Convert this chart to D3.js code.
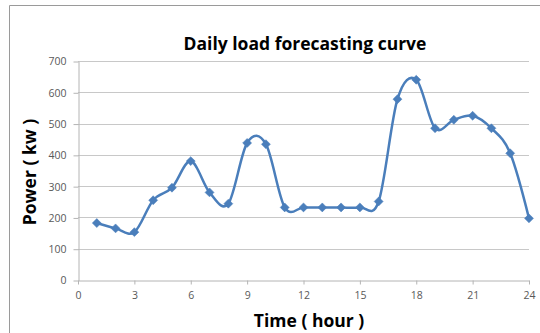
<!DOCTYPE html>
<html>
<head>
<meta charset="utf-8">
<script src="https://cdn.jsdelivr.net/npm/d3@7"></script>
<style>
  html, body { margin: 0; padding: 0; background: #fff; }
  svg { display: block; }
</style>
</head>
<body>
<div id="chart"></div>
<script>
// hours and forecast load
var hours = [1, 2, 3, 4, 5, 6, 7, 8, 9, 10, 11, 12, 13, 14, 15, 16, 17, 18, 19, 20, 21, 22, 23, 24];
var power = [182, 165, 153, 255, 295, 380, 280, 244, 438, 434, 232, 232, 232, 232, 232, 251, 578, 640, 485, 512, 525, 485, 405, 197];
var xTicks = [0, 3, 6, 9, 12, 15, 18, 21, 24];
var yTicks = [0, 100, 200, 300, 400, 500, 600, 700];

var data = hours.map(function(h, i) { return [h, power[i]]; });

var svg = d3.select("#chart").append("svg")
    .attr("width", 540)
    .attr("height", 333);

// outer chart border
svg.append("path")
    .attr("d", "M9.5,340 V5.5 H545")
    .attr("fill", "none")
    .attr("stroke", "#9a9a9a")
    .attr("stroke-width", 1);

var plotLeft = 78, plotRight = 529, plotTop = 61, plotBottom = 280;

var xScale = d3.scaleLinear().domain([0, 24]).range([plotLeft, plotRight]);
var yScale = d3.scaleLinear().domain([0, 700]).range([plotBottom, plotTop]);

// grid lines
svg.append("g")
    .selectAll("line")
    .data(yTicks.slice(1))
    .enter()
    .append("line")
    .attr("x1", plotLeft)
    .attr("x2", plotRight)
    .attr("y1", function(d) { return Math.round(yScale(d)) + 0.5; })
    .attr("y2", function(d) { return Math.round(yScale(d)) + 0.5; })
    .attr("stroke", "#c8c8c8")
    .attr("stroke-width", 1);

var yAxis = svg.append("g")
    .attr("transform", "translate(" + (plotLeft + 0.5) + ",0.5)")
    .call(d3.axisLeft(yScale).tickValues(yTicks).tickSize(5).tickPadding(7).tickSizeOuter(0));

var xAxis = svg.append("g")
    .attr("transform", "translate(0," + (plotBottom + 0.5) + ")")
    .call(d3.axisBottom(xScale).tickValues(xTicks).tickSize(4).tickPadding(7).tickSizeOuter(0));

[yAxis, xAxis].forEach(function(ax) {
  ax.select(".domain").attr("stroke", "#b4b4b4");
  ax.selectAll(".tick line").attr("stroke", "#b4b4b4");
  ax.selectAll(".tick text")
    .attr("fill", "#595959")
    .style("font-family", "'Open Sans', sans-serif")
    .style("font-size", "10.5px");
});

var line = d3.line()
    .x(function(d) { return xScale(d[0]); })
    .y(function(d) { return yScale(d[1]); })
    .curve(d3.curveCardinal.tension(0));

svg.append("path")
    .datum(data)
    .attr("d", line)
    .attr("fill", "none")
    .attr("stroke", "#4a7ebb")
    .attr("stroke-width", 2.5);

// square markers turned 45 degrees, like the spreadsheet diamonds
svg.append("g")
    .selectAll("path")
    .data(data)
    .enter()
    .append("path")
    .attr("d", d3.symbol().type(d3.symbolSquare).size(40))
    .attr("transform", function(d) { return "translate(" + xScale(d[0]) + "," + yScale(d[1]) + ") rotate(45)"; })
    .attr("fill", "#4a7ebb")
    .attr("stroke", "#4a7ebb")
    .attr("stroke-width", 0.5);

svg.append("text")
    .attr("x", 305)
    .attr("y", 50)
    .attr("text-anchor", "middle")
    .style("font-family", "'Open Sans', sans-serif")
    .style("font-weight", "bold")
    .style("font-size", "17.5px")
    .text("Daily load forecasting curve");

svg.append("text")
    .attr("x", 309)
    .attr("y", 327)
    .attr("text-anchor", "middle")
    .style("font-family", "'Open Sans', sans-serif")
    .style("font-weight", "bold")
    .style("font-size", "17.5px")
    .text("Time ( hour )");

svg.append("text")
    .attr("transform", "translate(36,172) rotate(-90)")
    .attr("text-anchor", "middle")
    .style("font-family", "'Open Sans', sans-serif")
    .style("font-weight", "bold")
    .style("font-size", "17.5px")
    .text("Power ( kw )");
</script>
</body>
</html>
